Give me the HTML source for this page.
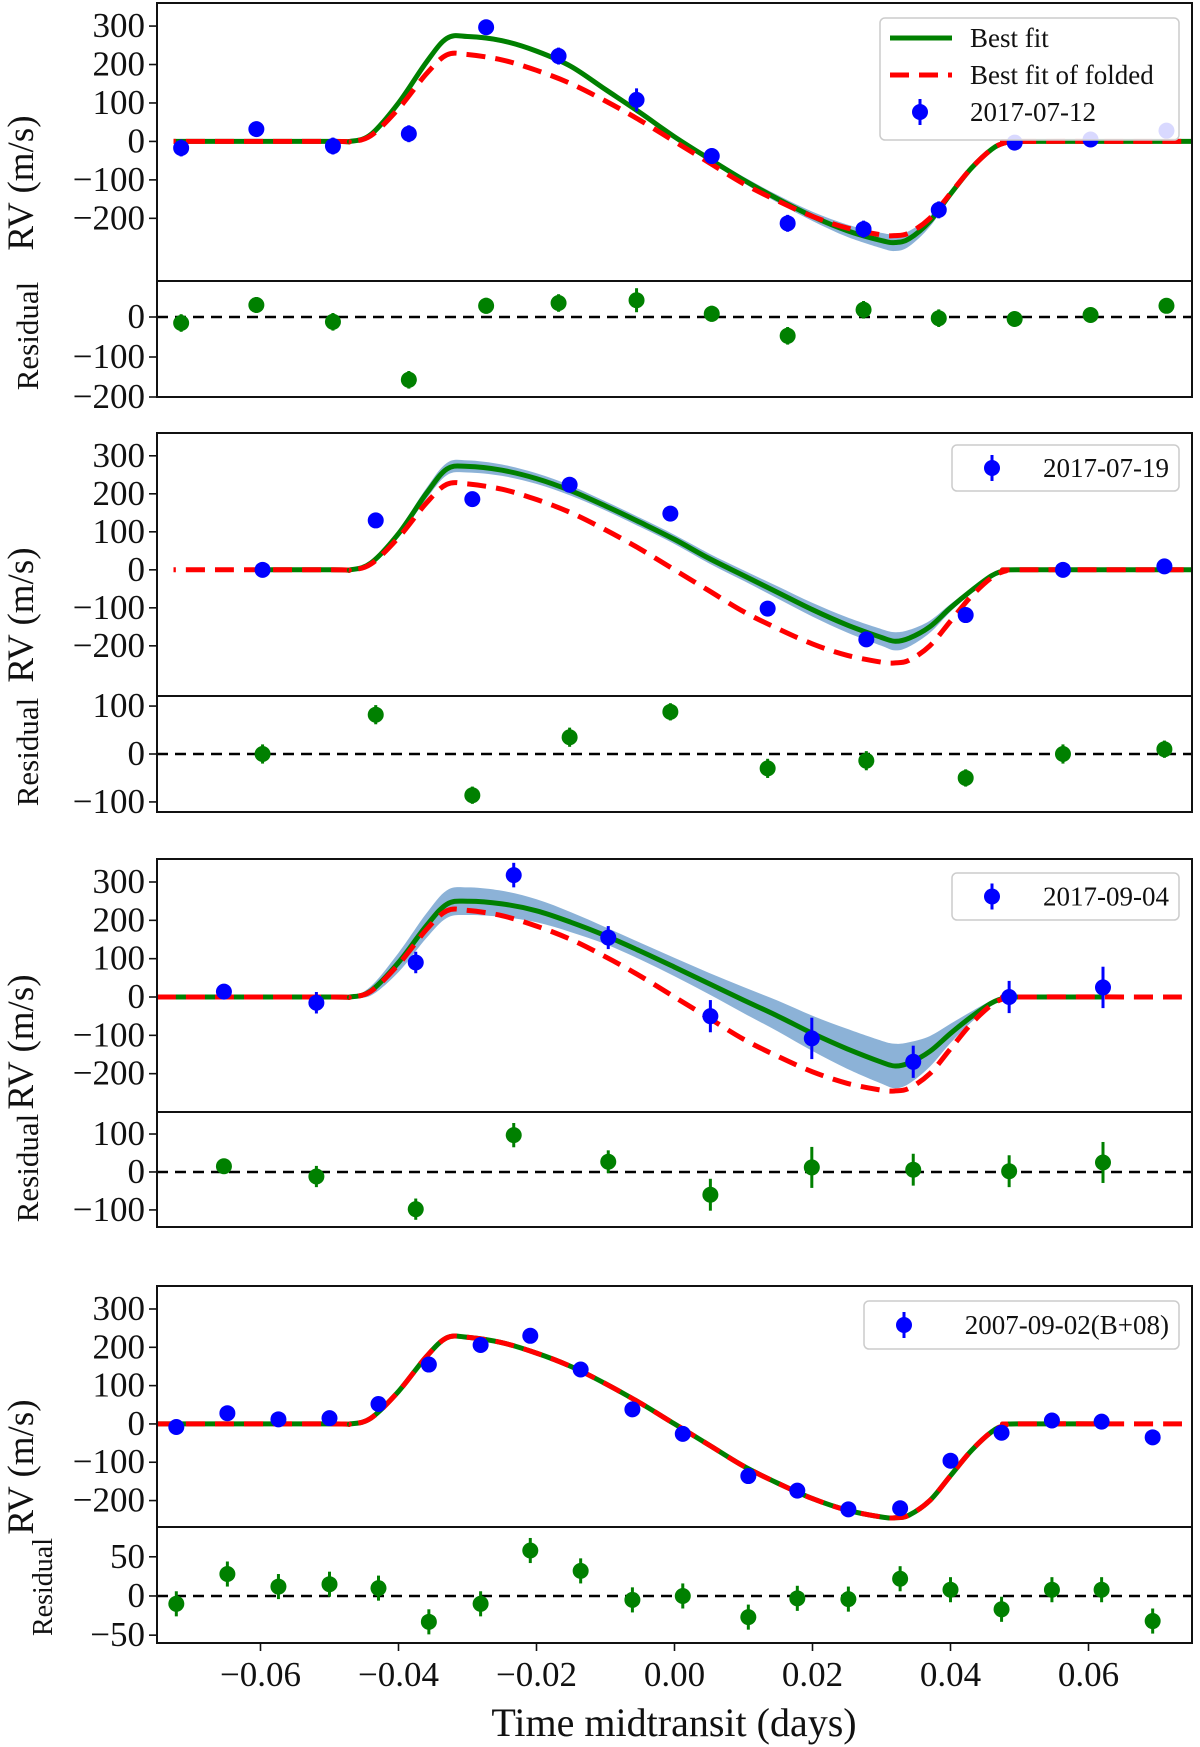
<!DOCTYPE html>
<html><head><meta charset="utf-8"><style>
html,body{margin:0;padding:0;background:#fff;}
svg{display:block;}
text{font-family:"Liberation Serif","DejaVu Serif",serif;fill:#111;}
</style></head><body>
<svg id="fig" width="1200" height="1747" viewBox="0 0 1200 1747" xmlns="http://www.w3.org/2000/svg"></svg>
<script>
// ---- data ----
const modelT = [-0.075,-0.05,-0.047,-0.044,-0.040,-0.036,-0.033,-0.030,-0.025,-0.020,-0.015,-0.010,-0.005,0,0.005,0.010,0.015,0.020,0.025,0.030,0.032,0.034,0.037,0.040,0.043,0.046,0.048,0.050,0.075];
const foldedRV = [0,0,0,15,85,175,225,226,212,185,150,105,55,0,-55,-110,-155,-195,-225,-243,-245,-238,-200,-135,-70,-20,-3,0,0];
const fit1RV = [0,0,0,18,100,205,268,273,262,235,195,135,75,12,-45,-100,-150,-195,-232,-258,-263,-253,-208,-137,-70,-20,-3,0,0];
const band1 = [0,0,0,3,5,6,6,6,6,6,6,6,6,6,7,8,10,12,16,20,22,20,14,8,5,3,0,0,0];
const fit2RV = [0,0,0,18,95,200,265,272,262,240,208,168,125,80,30,-15,-60,-105,-145,-178,-188,-180,-150,-100,-55,-15,-2,0,0];
const band2 = [0,0,0,5,10,14,16,16,15,14,13,12,12,12,13,14,16,18,20,22,24,22,16,10,6,3,0,0,0];
const fit3RV = [0,0,0,16,90,185,242,250,243,225,195,160,120,78,35,-8,-50,-95,-135,-170,-180,-172,-142,-95,-52,-15,-2,0,0];
const band3 = [0,0,0,12,25,32,36,36,34,30,26,22,22,24,28,34,40,46,52,56,58,54,40,25,14,6,0,0,0];
const fit4RV = foldedRV;

const p1T=[-0.0715,-0.0606,-0.0495,-0.0385,-0.0273,-0.0168,-0.0055,0.0054,0.0164,0.0274,0.0383,0.0493,0.0603,0.0713];
const p1RV=[-17,32,-12,20,297,222,108,-38,-213,-228,-178,-3,5,28];
const p1Err=[22,20,22,22,20,22,30,20,22,22,22,18,18,18];
const p1Res=[-15,30,-12,-157,28,35,42,8,-47,18,-3,-5,5,28];

const p2T=[-0.0597,-0.0433,-0.0293,-0.0152,-0.0006,0.0135,0.0278,0.0422,0.0563,0.071];
const p2RV=[0,130,186,224,148,-102,-183,-119,0,9];
const p2Err=[20,20,18,20,18,20,20,18,20,18];
const p2Res=[0,82,-86,35,88,-30,-14,-50,0,10];

const p3T=[-0.0653,-0.0519,-0.0375,-0.0233,-0.0096,0.0052,0.0199,0.0346,0.0485,0.0621];
const p3RV=[14,-15,90,318,155,-50,-108,-169,0,25];
const p3Err=[20,28,28,32,30,42,54,42,42,54];
const p3Res=[15,-12,-98,97,27,-60,12,6,2,25];

const p4T=[-0.0722,-0.0648,-0.0574,-0.050,-0.0429,-0.0356,-0.0281,-0.0209,-0.0136,-0.0061,0.0012,0.0107,0.0178,0.0252,0.0327,0.040,0.0474,0.0547,0.0619,0.0693];
const p4RV=[-8,28,12,15,52,155,206,230,142,38,-26,-136,-174,-223,-220,-96,-23,9,6,-35];
const p4Err=[16,16,16,16,16,16,16,16,16,16,16,16,16,16,16,16,16,16,16,16];
const p4Res=[-10,28,12,15,10,-33,-10,58,32,-5,0,-27,-3,-4,22,8,-17,8,8,-32];

const xTicks=[-0.06,-0.04,-0.02,0.00,0.02,0.04,0.06];
const xTickLabels=["\u22120.06","\u22120.04","\u22120.02","0.00","0.02","0.04","0.06"];
const rvTicks=[300,200,100,0,-100,-200];

const svg=document.getElementById('fig');
const NS='http://www.w3.org/2000/svg';
function mk(tag,attrs,parent){const e=document.createElementNS(NS,tag);for(const k in attrs)e.setAttribute(k,attrs[k]);(parent||svg).appendChild(e);return e;}
const X0=157,X1=1192,TMIN=-0.075,TMAX=0.075;
const xs=t=>X0+(t-TMIN)/(TMAX-TMIN)*(X1-X0);
function fmt(v){return v<0?'\u2212'+(-v):''+v;}
function smoothPath(pts){
  let d='M'+pts[0][0].toFixed(1)+','+pts[0][1].toFixed(1);
  for(let i=0;i<pts.length-1;i++){
    const p0=pts[Math.max(0,i-1)],p1=pts[i],p2=pts[i+1],p3=pts[Math.min(pts.length-1,i+2)];
    const c1=[p1[0]+(p2[0]-p0[0])/6,p1[1]+(p2[1]-p0[1])/6],c2=[p2[0]-(p3[0]-p1[0])/6,p2[1]-(p3[1]-p1[1])/6];
    d+=' C'+c1[0].toFixed(1)+','+c1[1].toFixed(1)+' '+c2[0].toFixed(1)+','+c2[1].toFixed(1)+' '+p2[0].toFixed(1)+','+p2[1].toFixed(1);
  }
  return d;
}
const TFS=35;
function panel(cfg,idx){
  const g=mk('g',{});
  
  
  const ys=v=>cfg.top+(cfg.ymax-v)/(cfg.ymax-cfg.ymin)*(cfg.mid-cfg.top);
  const rs=v=>cfg.mid+(cfg.rmax-v)/(cfg.rmax-cfg.rmin)*(cfg.bot-cfg.mid);
  const cid='clip'+idx;
  const cp=mk('clipPath',{id:cid},g);mk('rect',{x:X0,y:cfg.top,width:X1-X0,height:cfg.mid-cfg.top},cp);
  const plot=mk('g',{'clip-path':'url(#'+cid+')'},g);
  if(cfg.band){
    const up=[],lo=[];
    modelT.forEach((t,i)=>{up.push([xs(t),ys(cfg.fit[i]+cfg.band[i])]);lo.push([xs(t),ys(cfg.fit[i]-cfg.band[i])]);});
    lo.reverse();
    const d=smoothPath(up)+' L'+smoothPath(lo).slice(1)+' Z';
    const b=mk('path',{d:d,fill:'#6f9fcd','fill-opacity':0.8,stroke:'none'},plot);
    
    
  }
  const gpts=[],rpts=[];
  modelT.forEach((t,i)=>{gpts.push([xs(t),ys(cfg.fit[i])]);rpts.push([xs(t),ys(foldedRV[i])]);});
  const gc='gc'+idx;
  const cp2=mk('clipPath',{id:gc},g);mk('rect',{x:xs(cfg.g0),y:cfg.top,width:xs(cfg.g1)-xs(cfg.g0),height:cfg.mid-cfg.top},cp2);
  const gl=mk('path',{d:smoothPath(gpts),fill:'none',stroke:'#008000','stroke-width':5,'clip-path':'url(#'+gc+')'},plot);
  
  
  const rc='rc'+idx;
  const cp3=mk('clipPath',{id:rc},g);mk('rect',{x:xs(cfg.r0),y:cfg.top,width:X1-xs(cfg.r0),height:cfg.mid-cfg.top},cp3);
  const rl=mk('path',{d:smoothPath(rpts),fill:'none',stroke:'#ff0000','stroke-width':5,'stroke-dasharray':'19,10','clip-path':'url(#'+rc+')'},plot);
  
  
  cfg.t.forEach((t,i)=>{
    const x=xs(t),y=ys(cfg.rv[i]);
    const l=mk('line',{x1:x,x2:x,y1:ys(cfg.rv[i]+cfg.err[i]),y2:ys(cfg.rv[i]-cfg.err[i]),stroke:'#0000ff','stroke-width':3},plot);
    
    
    const c=mk('circle',{cx:x,cy:y,r:8,fill:'#0000ff'},plot);
    
    
  });
  const rcp='res'+idx;
  const cp4=mk('clipPath',{id:rcp},g);mk('rect',{x:X0,y:cfg.mid,width:X1-X0,height:cfg.bot-cfg.mid},cp4);
  const rp=mk('g',{'clip-path':'url(#'+rcp+')'},g);
  const z=mk('line',{x1:X0,x2:X1,y1:rs(0),y2:rs(0),stroke:'#000','stroke-width':2.5,'stroke-dasharray':'11,7'},rp);
  
  
  cfg.t.forEach((t,i)=>{
    const x=xs(t);
    const l=mk('line',{x1:x,x2:x,y1:rs(cfg.res[i]+cfg.err[i]),y2:rs(cfg.res[i]-cfg.err[i]),stroke:'#008000','stroke-width':3},rp);
    
    
    const c=mk('circle',{cx:x,cy:rs(cfg.res[i]),r:8,fill:'#008000'},rp);
    
    
  });
  mk('rect',{x:X0,y:cfg.top,width:X1-X0,height:cfg.bot-cfg.top,fill:'none',stroke:'#111','stroke-width':2},g);
  mk('line',{x1:X0,x2:X1,y1:cfg.mid,y2:cfg.mid,stroke:'#111','stroke-width':2},g);
  rvTicks.forEach(v=>{
    const y=ys(v);
    mk('line',{x1:X0-8,x2:X0,y1:y,y2:y,stroke:'#111','stroke-width':1.6},g);
    const tx=mk('text',{x:X0-12,y:y+11,'text-anchor':'end','font-size':TFS},g);tx.textContent=fmt(v);
    
    
  });
  cfg.rticks.forEach(v=>{
    const y=rs(v);
    mk('line',{x1:X0-8,x2:X0,y1:y,y2:y,stroke:'#111','stroke-width':1.6},g);
    const tx=mk('text',{x:X0-12,y:y+11,'text-anchor':'end','font-size':TFS},g);tx.textContent=fmt(v);
    
    
  });
  const yl=mk('text',{x:0,y:0,'text-anchor':'middle','font-size':37,transform:'translate('+(cfg.rvx)+','+cfg.rvy+') rotate(-90)'},g);
  yl.textContent='RV (m/s)';
  
  
  const rl2=mk('text',{x:0,y:0,'text-anchor':'middle','font-size':cfg.resfs||31,transform:'translate('+cfg.resx+','+cfg.resy+') rotate(-90)'},g);
  rl2.textContent='Residual';
  
  
  const L=cfg.leg;
  const lg=mk('g',{},g);
  
  
  mk('rect',{x:L.x,y:L.y,width:L.w,height:L.h,rx:5,fill:'#fff','fill-opacity':0.85,stroke:'#ccc','stroke-width':1.5},lg);
  let ly=L.y+L.h/2;
  let tx0=L.x+L.w-10, anc='end';
  if(L.full){
    ly=L.y+20;
    mk('line',{x1:L.x+10,x2:L.x+72,y1:ly,y2:ly,stroke:'#008000','stroke-width':5},lg);
    let t=mk('text',{x:L.x+90,y:ly+9,'font-size':27},lg);t.textContent='Best fit';
    ly+=37;
    mk('line',{x1:L.x+10,x2:L.x+72,y1:ly,y2:ly,stroke:'#ff0000','stroke-width':5,'stroke-dasharray':'19,10'},lg);
    t=mk('text',{x:L.x+90,y:ly+9,'font-size':27},lg);t.textContent='Best fit of folded';
    ly+=37; tx0=L.x+90; anc='start';
  }
  mk('line',{x1:L.x+40,x2:L.x+40,y1:ly-13,y2:ly+13,stroke:'#0000ff','stroke-width':3},lg);
  mk('circle',{cx:L.x+40,cy:ly,r:8,fill:'#0000ff'},lg);
  const lt=mk('text',{x:tx0,y:ly+9,'font-size':27,'text-anchor':anc},lg);lt.textContent=L.label;
  
  
  return cfg;
}
panel({top:3,mid:281,bot:397,ymax:360,ymin:-363,rmax:90,rmin:-200,rticks:[0,-100,-200],fit:fit1RV,band:band1,g0:-0.0726,g1:0.075,r0:-0.0726,t:p1T,rv:p1RV,err:p1Err,res:p1Res,rvx:33,rvy:183,resx:38,resy:336,leg:{x:880,y:18,w:299,h:122,full:true,label:'2017-07-12'}},1);
panel({top:433,mid:696,bot:812,ymax:360,ymin:-332,rmax:121,rmin:-121,rticks:[100,0,-100],fit:fit2RV,band:band2,g0:-0.0597,g1:0.075,r0:-0.0726,t:p2T,rv:p2RV,err:p2Err,res:p2Res,rvx:33,rvy:615,resx:38,resy:752,leg:{x:952,y:445,w:227,h:46,label:'2017-07-19'}},2);
panel({top:859,mid:1112,bot:1227,ymax:360,ymin:-300,rmax:158,rmin:-145,rticks:[100,0,-100],fit:fit3RV,band:band3,g0:-0.075,g1:0.0621,r0:-0.075,t:p3T,rv:p3RV,err:p3Err,res:p3Res,rvx:33,rvy:1042,resx:38,resy:1168,leg:{x:952,y:873,w:227,h:47,label:'2017-09-04'}},3);
panel({top:1286,mid:1527,bot:1643,ymax:360,ymin:-269,rmax:88,rmin:-60,rticks:[50,0,-50],fit:fit4RV,band:null,g0:-0.075,g1:0.0621,r0:-0.075,t:p4T,rv:p4RV,err:p4Err,res:p4Res,rvx:33,rvy:1467,resx:52,resy:1587,resfs:28,leg:{x:864,y:1301,w:315,h:48,label:'2007-09-02(B+08)'}},4);
xTicks.forEach((v,i)=>{
  const x=xs(v);
  mk('line',{x1:x,x2:x,y1:1643,y2:1651,stroke:'#111','stroke-width':1.6});
  const t=mk('text',{x:x,y:1686,'text-anchor':'middle','font-size':TFS});t.textContent=xTickLabels[i];
  
  
});
const xl=mk('text',{x:674,y:1736,'text-anchor':'middle','font-size':40});xl.textContent='Time midtransit (days)';


</script>
</body></html>
